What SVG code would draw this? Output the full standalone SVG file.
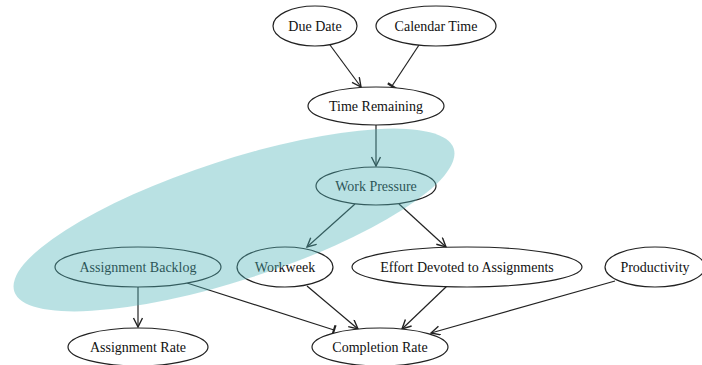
<svg xmlns="http://www.w3.org/2000/svg" width="702" height="365" viewBox="0 0 702 365">
  <style>
    .node ellipse { fill: #ffffff; stroke: #222222; stroke-width: 1.2; }
    .node text { font-family: "Liberation Serif", "Times New Roman", serif; font-size: 14px; fill: #111111; text-anchor: middle; dominant-baseline: central; }
    .edge { stroke: #222222; stroke-width: 1.2; fill: none; }
    .arrow { marker-end: url(#vee); }
    .inhibit { marker-end: url(#tee); }
  </style>
  <defs>
    <marker id="vee" markerWidth="12" markerHeight="12" refX="10" refY="5" orient="auto" markerUnits="userSpaceOnUse">
      <path d="M1,0.5 L10,5 L1,9.5" fill="none" stroke="#222222" stroke-width="1.4"/>
    </marker>
    <marker id="tee" markerWidth="6" markerHeight="14" refX="2" refY="6" orient="auto" markerUnits="userSpaceOnUse">
      <path d="M2,1 L2,11" fill="none" stroke="#222222" stroke-width="2.2"/>
    </marker>
  </defs>

  <rect width="702" height="365" fill="#ffffff"/>

  <g id="connectors">
    <line class="edge arrow" x1="330" y1="45" x2="361" y2="87"/>
    <line class="edge inhibit" x1="419" y1="45" x2="392" y2="86"/>
    <line class="edge arrow" x1="376" y1="125" x2="376" y2="166"/>
    <line class="edge arrow" x1="355" y1="204" x2="307" y2="247"/>
    <line class="edge arrow" x1="399" y1="204" x2="446" y2="247"/>
    <line class="edge arrow" x1="138" y1="287" x2="138" y2="327"/>
    <line class="edge inhibit" x1="187" y1="283" x2="334" y2="330"/>
    <line class="edge arrow" x1="307" y1="286" x2="358" y2="329"/>
    <line class="edge arrow" x1="447" y1="286" x2="402" y2="329"/>
    <line class="edge arrow" x1="615" y1="281" x2="431" y2="333"/>
  </g>

  <g id="due-date" class="node">
    <ellipse cx="315" cy="26" rx="42" ry="20"/>
    <text x="315" y="26">Due Date</text>
  </g>
  <g id="calendar-time" class="node">
    <ellipse cx="436" cy="26" rx="60" ry="20"/>
    <text x="436" y="26">Calendar Time</text>
  </g>
  <g id="time-remaining" class="node">
    <ellipse cx="376" cy="106" rx="68" ry="19"/>
    <text x="376" y="106">Time Remaining</text>
  </g>
  <g id="work-pressure" class="node">
    <ellipse cx="376" cy="186" rx="60" ry="19"/>
    <text x="376" y="186">Work Pressure</text>
  </g>
  <g id="assignment-backlog" class="node">
    <ellipse cx="138" cy="267" rx="83" ry="20"/>
    <text x="138" y="267">Assignment Backlog</text>
  </g>
  <g id="workweek" class="node">
    <ellipse cx="285" cy="267" rx="48" ry="20"/>
    <text x="285" y="267">Workweek</text>
  </g>
  <g id="effort-devoted" class="node">
    <ellipse cx="467" cy="267" rx="115" ry="20"/>
    <text x="467" y="267">Effort Devoted to Assignments</text>
  </g>
  <g id="productivity" class="node">
    <ellipse cx="655" cy="267" rx="50" ry="20"/>
    <text x="655" y="267">Productivity</text>
  </g>
  <g id="assignment-rate" class="node">
    <ellipse cx="138" cy="347" rx="70" ry="19"/>
    <text x="138" y="347">Assignment Rate</text>
  </g>
  <g id="completion-rate" class="node">
    <ellipse cx="380" cy="347" rx="68" ry="19"/>
    <text x="380" y="347">Completion Rate</text>
  </g>

  <!-- translucent highlight band over the work-pressure loop -->
  <ellipse id="highlight" cx="234" cy="220" rx="231" ry="60" transform="rotate(-18 234 220)" fill="rgb(80,180,185)" fill-opacity="0.4"/>
</svg>
